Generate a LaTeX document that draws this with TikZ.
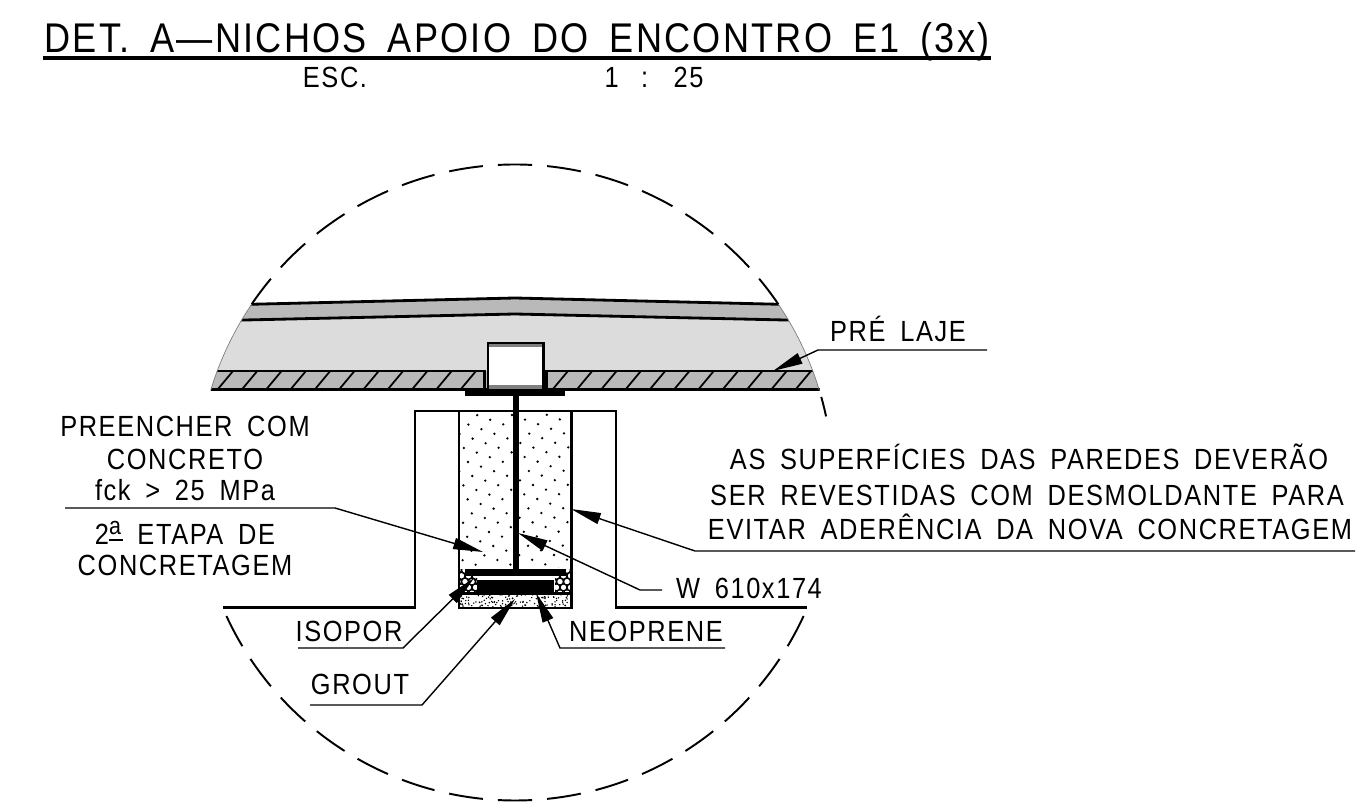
\documentclass[tikz,border=0pt]{standalone}
\usepackage{fontspec}
\usetikzlibrary{arrows.meta}
\newfontfamily\cadfont[FakeStretch=0.87,LetterSpace=5.5,WordSpace=1.7]{Liberation Sans}
\definecolor{lightslab}{HTML}{DCDCDC}
\definecolor{darkslab}{HTML}{B9B9B9}
\tikzset{
    titletext/.style={font=\cadfont\fontsize{11.8}{13}\selectfont,inner sep=0pt,anchor=base},
    labeltext/.style={font=\cadfont\fontsize{8.3}{10}\selectfont,inner sep=0pt,anchor=base},
    outline/.style={line width=0.75pt,black},
    leaderline/.style={line width=0.4pt,black},
    leaderarrow/.style={leaderline,-{Triangle[length=8.5pt,width=3.2pt]}},
    cutline/.style={line width=0.55pt,black,dash pattern=on 9.7pt off 4.3pt,dash phase=4.85pt},
}
\begin{document}
\begin{tikzpicture}[x=0.01cm,y=-0.01cm]
    \useasboundingbox (0,0) rectangle (1367,810);

    % Title and scale
    \node[titletext] (title) at (517,53) {DET. A—NICHOS APOIO DO ENCONTRO E1 (3x)};
    \coordinate (titleL) at (43,58);
    \coordinate (titleR) at (991,58);
    \draw[line width=0.95pt] (titleL) -- (titleR);
    \node[labeltext] (esc) at (335,88) {ESC.};
    \node[labeltext] (scaleval) at (654,88) {1\hspace{2.2pt} : \hspace{2.2pt}25};

    % Slab layers, all cut by the detail circle
    \begin{scope}
        \clip (515,482.5) circle (318);
        \fill[lightslab] (200,320) -- (515,313) -- (830,320) -- (830,372) -- (200,372) -- cycle;
        \fill[darkslab] (200,305) -- (515,297) -- (830,305) -- (830,320) -- (515,313) -- (200,320) -- cycle;
        \fill[darkslab] (200,371) rectangle (830,389);
        \draw[line width=0.8pt] (200,305.5) -- (515,298) -- (830,305.5);
        \draw[line width=0.8pt] (200,321) -- (515,314) -- (830,321);
    \end{scope}

    % Hatch of the pre-slab
    \foreach \n in {0,...,10}
        \draw[line width=0.5pt] ({218+24.3*\n},389) -- ({233+24.3*\n},371);
    \foreach \n in {0,...,10}
        \draw[line width=0.5pt] ({553+24.3*\n},389) -- ({568+24.3*\n},371);
    \draw[line width=0.7pt] (217,371) -- (484.5,371) -- (484.5,389);
    \draw[line width=0.7pt] (813,371) -- (546.5,371) -- (546.5,389);
    \draw[line width=0.7pt] (211,389.5) -- (820,389.5);

    % Thin edge of the slab on the circle
    \draw[line width=0.2pt,gray] (515,482.5) ++(214.1:318) arc (214.1:196.8:318);
    \draw[line width=0.2pt,gray] (515,482.5) ++(325.9:318) arc (325.9:343.2:318);

    % Pocket in the top flange
    \fill[white] (488,343) rectangle (543.5,388);
    \fill[gray] (488,343) rectangle (543.5,347);
    \fill[gray] (488,385) rectangle (543.5,389);
    \draw[line width=0.7pt] (488,389) -- (488,343) -- (543.5,343) -- (543.5,389);

    % Detail circle
    \draw[cutline] (515,482.5) ++(-90:318) arc (-90:-145.9:318);
    \draw[cutline] (515,482.5) ++(-90:318) arc (-90:-34.1:318);
    \draw[cutline] (515,482.5) ++(90:318) arc (90:156.7:318);
    \draw[cutline] (515,482.5) ++(90:318) arc (90:23.3:318);
    \draw[line width=0.55pt] (515,482.5) ++(-15.6:318) arc (-15.6:-12:318);

    % Concrete fill, dots
    \begin{scope}
        \clip (460,412) rectangle (571,568);
        \foreach \i in {-6,...,12}
            \foreach \j in {-2,...,14}
                \fill ({447+13*\i+4.2*\j},{392+4.6*\i+14*\j}) circle (1.3);
    \end{scope}

    % Wall and niche outlines
    \draw[outline] (223,607.5) -- (415,607.5) -- (415,411) -- (616,411) -- (616,607.5) -- (807,607.5);
    \draw[outline] (459,411) -- (459,608) -- (571.5,608) -- (571.5,411);
    \draw[line width=0.7pt] (459,593.5) -- (571.5,593.5);

    % Isopor
    \begin{scope}
        \clip (460,570) rectangle (477,593);
        \foreach \i in {0,...,3}
            \foreach \j in {0,...,4}
                \draw[line width=0.35pt] ({458+7*\i+3.5*mod(\j,2)},{570+5.8*\j}) circle (3.5);
    \end{scope}
    \begin{scope}
        \clip (555,570) rectangle (571,593);
        \foreach \i in {0,...,3}
            \foreach \j in {0,...,4}
                \draw[line width=0.35pt] ({553+7*\i+3.5*mod(\j,2)},{570+5.8*\j}) circle (3.5);
    \end{scope}

    % Grout
    \pgfmathsetseed{41}
    \begin{scope}
        \clip (460,594) rectangle (571,607);
        \foreach \n in {1,...,130}
            \fill ({460+111*rnd},{594+13*rnd}) circle (0.8);
    \end{scope}

    % Steel beam and neoprene
    \fill (465,389.5) rectangle (564.5,396.5);
    \fill (512.5,396) rectangle (518.5,570);
    \fill (465,569) rectangle (566,576.5);
    \fill (477,580) rectangle (554,592.5);

    % Labels
    \node[labeltext] (prelaje) at (898,342) {PRÉ LAJE};
    \node[labeltext] (fill1) at (185,437) {PREENCHER COM};
    \node[labeltext] (fill2) at (185,470) {CONCRETO};
    \node[labeltext] (fill3) at (185,501) {fck > 25 MPa};
    \node[labeltext] (stage1) at (185,545) {2$^{\underline{\mbox{\scriptsize a}}}$ ETAPA DE};
    \node[labeltext] (stage2) at (185,576) {CONCRETAGEM};
    \node[labeltext] (wall1) at (1029,470) {AS SUPERFÍCIES DAS PAREDES DEVERÃO};
    \node[labeltext] (wall2) at (1027,506) {SER REVESTIDAS COM DESMOLDANTE PARA};
    \node[labeltext] (wall3) at (1030,540) {EVITAR ADERÊNCIA DA NOVA CONCRETAGEM};
    \node[labeltext] (beam) at (749,598) {W 610x174};
    \node[labeltext] (isopor) at (349,642) {ISOPOR};
    \node[labeltext] (neoprene) at (646,641) {NEOPRENE};
    \node[labeltext] (grout) at (360,694) {GROUT};

    % Leader ends
    \coordinate (lajeEnd) at (987,350);
    \coordinate (lajeBend) at (818,350);
    \coordinate (lajeTip) at (773,371);
    \coordinate (fillEnd) at (65,508);
    \coordinate (fillBend) at (335,508);
    \coordinate (fillTip) at (483,552);
    \coordinate (wallEnd) at (1355,551);
    \coordinate (wallBend) at (695,551);
    \coordinate (wallTip) at (571,509);
    \coordinate (beamEnd) at (662,590);
    \coordinate (beamBend) at (640,590);
    \coordinate (beamTip) at (518,533);
    \coordinate (isoporEnd) at (298,648);
    \coordinate (isoporBend) at (403,648);
    \coordinate (isoporTip) at (474,578);
    \coordinate (groutEnd) at (310,705);
    \coordinate (groutBend) at (422,705);
    \coordinate (groutTip) at (515,599);
    \coordinate (neoEnd) at (725,648);
    \coordinate (neoBend) at (560,648);
    \coordinate (neoTip) at (536,593);

    % Leaders
    \draw[leaderarrow] (lajeEnd) -- (lajeBend) -- (lajeTip);
    \draw[leaderarrow] (fillEnd) -- (fillBend) -- (fillTip);
    \draw[leaderarrow] (wallEnd) -- (wallBend) -- (wallTip);
    \draw[leaderarrow] (beamEnd) -- (beamBend) -- (beamTip);
    \draw[leaderarrow] (isoporEnd) -- (isoporBend) -- (isoporTip);
    \draw[leaderarrow] (groutEnd) -- (groutBend) -- (groutTip);
    \draw[leaderarrow] (neoEnd) -- (neoBend) -- (neoTip);
\end{tikzpicture}
\end{document}
